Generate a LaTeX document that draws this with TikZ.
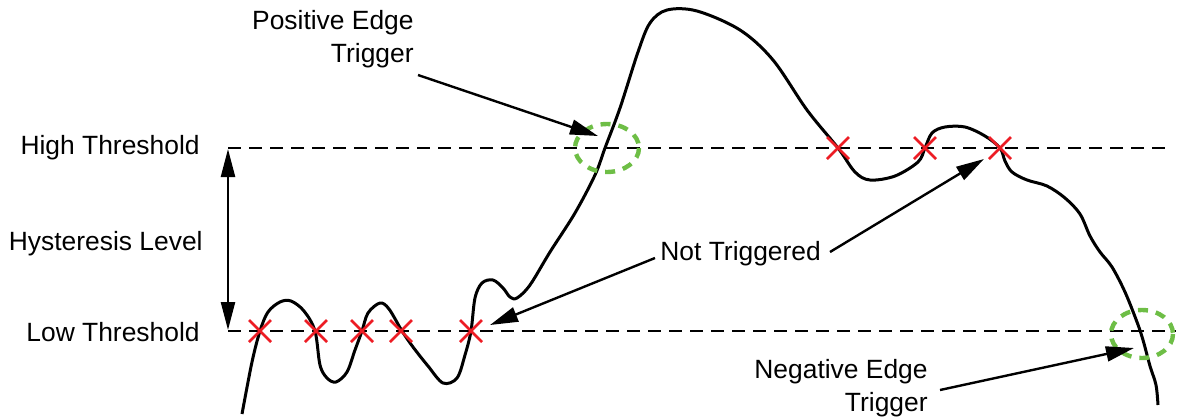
\documentclass[tikz,border=0pt]{standalone}
\usepackage{fontspec}
\setmainfont{Liberation Sans}
\usetikzlibrary{arrows.meta}
\definecolor{xred}{RGB}{237,28,36}
\definecolor{cgreen}{RGB}{110,190,70}
\tikzset{
  lbl/.style={inner sep=0pt, font=\fontsize{13.2pt}{16.5pt}\selectfont},
  thr/.style={line width=1.3pt, dash pattern=on 6.5pt off 4pt},
  wave/.style={line width=1.5pt, line join=round},
  pointer/.style={line width=1.2pt, -{Triangle[length=14pt,width=7.5pt]}},
  dpointer/.style={line width=1.2pt, {Triangle[length=14pt,width=7pt]}-{Triangle[length=14pt,width=7pt]}},
  ring/.style={draw=cgreen, line width=2.2pt, dash pattern=on 5pt off 4pt},
  xmark/.style={xred, line width=1.3pt},
}
\begin{document}
\begin{tikzpicture}[x=0.5pt,y=-0.5pt]
\useasboundingbox (0,0) rectangle (1180,419);
% threshold lines
\coordinate (h0) at (228,148); \coordinate (h1) at (1172,148);
\coordinate (l0) at (228,331); \coordinate (l1) at (1176,331);
\draw[thr] (h0) -- (h1);
\draw[thr] (l0) -- (l1);
% labels
\node[lbl, anchor=east] (ht) at (200,148) {High Threshold};
\node[lbl, anchor=east] (hl) at (203,244) {Hysteresis Level};
\node[lbl, anchor=east] (lt) at (200,332) {Low Threshold};
\coordinate (dtop) at (228,149); \coordinate (dbot) at (228,330);
\draw[dpointer] (dbot) -- (dtop);
% waveform
\draw[wave] plot[smooth, tension=0.55] coordinates {
(242,414) (252,362) (260,331) (268,312) (280,302) (291,301) (304,311) (315,331) (320,365) (327,378) (336,382) (347,372) (355,350) (362,331) (368,313) (380,303) (389,309) (402,331) (413,347) (428,366) (443,383) (457,378) (465,355) (471,331) (475,298) (482,283) (493,280) (503,288) (510,297) (517,298) (530,285) (550,252) (575,213) (595,175) (605,148) (620,108) (638,52) (650,23) (667,10) (697,11) (740,30) (773,60) (807,110) (838,148) (855,172) (870,180) (895,176) (918,162) (925,148) (932,133) (945,127) (965,127) (985,136) (1000,148) (1005,161) (1012,172) (1027,180) (1047,186) (1065,198) (1080,214) (1090,236) (1100,252) (1112,267) (1125,292) (1137,322) (1143,340) (1150,366) (1156,385) (1158,405)};
% red crosses
\foreach \p in {(260,331),(316,331),(362,331),(401,331),(471,331),(838,148),(925,148),(1000,148)}{
  \draw[xmark] \p ++(-11,-11) -- ++(22,22) \p ++(-11,11) -- ++(22,-22);
}
% green rings
\draw[ring] (607,148) ellipse [x radius=32, y radius=24];
\draw[ring] (1142,334) ellipse [x radius=31, y radius=24];
% texts and pointers
\node[lbl, anchor=east, align=right] (pet) at (414,39) {Positive Edge\\Trigger};
\node[lbl, anchor=west] (nt) at (660,254) {Not Triggered};
\node[lbl, anchor=east, align=right] (net) at (928,388) {Negative Edge\\Trigger};
\coordinate (p0) at (418,75); \coordinate (p1) at (598,136);
\coordinate (n0) at (655,258); \coordinate (n1) at (490,325);
\coordinate (m0) at (830,252); \coordinate (m1) at (984,159);
\coordinate (q0) at (940,390); \coordinate (q1) at (1134,348);
\draw[pointer] (p0) -- (p1);
\draw[pointer] (n0) -- (n1);
\draw[pointer] (m0) -- (m1);
\draw[pointer] (q0) -- (q1);
\end{tikzpicture}
\end{document}
